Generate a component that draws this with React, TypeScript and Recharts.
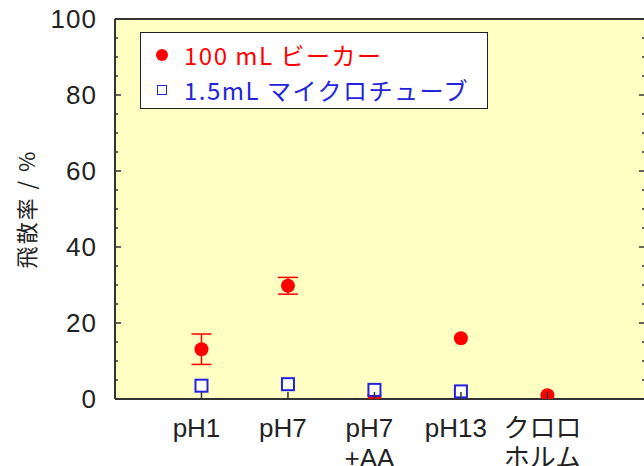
import React from "react";
import { ScatterChart, Scatter, XAxis, YAxis, CartesianGrid, ErrorBar, Legend } from "recharts";

// categories (multi-line tick labels)
const categories = [["pH1"], ["pH7"], ["pH7", "+AA"], ["pH13"], ["クロロ", "ホルム"]];
const categoryPositions = [1, 2, 3, 4, 5];

// 飛散率 (%)
const beakerValues = [13.1, 29.8, 0.9, 16.0, 1.0];
const beakerErrors = [4.0, 2.2, 0, 0, 0];
const tubeValues = [3.5, 3.9, 2.4, 2.0, null];

const yTicks = [0, 5, 10, 15, 20, 25, 30, 35, 40, 45, 50, 55, 60, 65, 70, 75, 80, 85, 90, 95, 100];

const beakerData = beakerValues.map((v, i) => ({ x: categoryPositions[i], y: v, err: beakerErrors[i] }));
const tubeData = tubeValues
  .map((v, i) => ({ x: categoryPositions[i], y: v }))
  .filter((d) => d.y !== null);

const AXIS = "#333333";
const RED = "#FF0000";
const BLUE = "#2323DC";
const NUM_FONT = "'Liberation Sans', Arial, 'Noto Sans CJK JP', sans-serif";
const JP_FONT = "'Noto Sans CJK JP', sans-serif";

const LeftTick = ({ x, y, payload }: any) => {
  const major = payload.value % 20 === 0;
  return (
    <g>
      <line x1={x} y1={y} x2={x + (major ? 6 : 3)} y2={y} stroke={AXIS} strokeWidth={1.5} />
      {major && (
        <text x={x - 18} y={y} textAnchor="end" dominantBaseline="central" fontSize={26} fontFamily={NUM_FONT} fill="#222" letterSpacing={1}>
          {payload.value}
        </text>
      )}
    </g>
  );
};

const RightTick = ({ x, y, payload }: any) => {
  const major = payload.value % 20 === 0;
  return <line x1={x} y1={y} x2={x - (major ? 7 : 4)} y2={y} stroke={AXIS} strokeWidth={1.5} />;
};

const BottomTick = ({ x, y, payload }: any) => {
  const lines = categories[payload.value - 1] || [];
  return (
    <g>
      <line x1={x} y1={y} x2={x} y2={y - 7} stroke={AXIS} strokeWidth={1.5} />
      {lines.map((t, i) => (
        <text key={i} x={x - 5} y={y + 38 + i * 30} textAnchor="middle" fontSize={26} fontFamily={NUM_FONT} fill="#222">
          {t}
        </text>
      ))}
    </g>
  );
};

const TopTick = ({ x, y }: any) => <line x1={x} y1={y} x2={x} y2={y + 6} stroke={AXIS} strokeWidth={1.5} />;

const RedDot = (props: any) => <circle cx={props.cx} cy={props.cy} r={7} fill={RED} />;
const BlueSquare = (props: any) => (
  <rect x={props.cx - 6} y={props.cy - 6} width={12} height={12} fill="#FFFFFF" stroke={BLUE} strokeWidth={2} />
);

const LegendBox = ({ payload }: any) => {
  const items = [...(payload || [])].sort((a: any, b: any) => (a.type === "circle" ? -1 : 0) - (b.type === "circle" ? -1 : 0));
  return (
    <div
      style={{
        width: 348,
        height: 77,
        boxSizing: "border-box",
        border: "1.5px solid #222",
        background: "#FFFFFF",
        paddingTop: 4,
        fontFamily: JP_FONT,
      }}
    >
      {items.map((entry: any, i: number) => (
        <div key={i} style={{ display: "flex", alignItems: "center", height: 35, color: entry.color }}>
          <div style={{ width: 43, display: "flex", justifyContent: "center" }}>
            {entry.type === "circle" ? (
              <div style={{ width: 12, height: 12, borderRadius: 6, background: entry.color, marginLeft: -2 }} />
            ) : (
              <div style={{ width: 10, height: 10, boxSizing: "border-box", border: `1.5px solid ${entry.color}`, marginLeft: -2 }} />
            )}
          </div>
          <span style={{ fontSize: 24, letterSpacing: 1.5, whiteSpace: "nowrap" }}>{entry.value}</span>
        </div>
      ))}
    </div>
  );
};

const YLabel = () => (
  <text
    x={25}
    y={209}
    transform="rotate(-90 25 209)"
    textAnchor="middle"
    dominantBaseline="central"
    fontSize={22}
    fontFamily={JP_FONT}
    fill="#222"
    letterSpacing={2}
  >
    飛散率 / %
  </text>
);

export default function App() {
  return (
    <div style={{ position: "fixed", left: 0, top: 0, width: 644, height: 466, overflow: "hidden", background: "#FFFFFF" }}>
      <ScatterChart width={660} height={466} margin={{ top: 0, right: 0, bottom: 0, left: 0 }}>
        <CartesianGrid fill="#FFFFC4" stroke="none" horizontal={false} vertical={false} />
        <XAxis
          dataKey="x"
          type="number"
          domain={[0, 6.14]}
          ticks={categoryPositions}
          allowDataOverflow
          height={67}
          tickSize={0}
          tickMargin={0}
          tickLine={false}
          axisLine={{ stroke: AXIS, strokeWidth: 2 }}
          tick={<BottomTick />}
          interval={0}
        />
        <XAxis
          xAxisId="top"
          orientation="top"
          type="number"
          domain={[0, 6.14]}
          ticks={categoryPositions}
          allowDataOverflow
          height={19}
          tickSize={0}
          tickMargin={0}
          tickLine={false}
          axisLine={{ stroke: AXIS, strokeWidth: 2 }}
          tick={<TopTick />}
          interval={0}
        />
        <YAxis
          dataKey="y"
          type="number"
          domain={[0, 100]}
          ticks={yTicks}
          allowDataOverflow
          width={115}
          tickSize={0}
          tickMargin={0}
          tickLine={false}
          axisLine={{ stroke: AXIS, strokeWidth: 2 }}
          tick={<LeftTick />}
          interval={0}
          label={{ content: () => <YLabel /> }}
        />
        <YAxis
          yAxisId="right"
          orientation="right"
          type="number"
          domain={[0, 100]}
          ticks={yTicks}
          allowDataOverflow
          width={14}
          tickSize={0}
          tickMargin={0}
          tickLine={false}
          axisLine={{ stroke: AXIS, strokeWidth: 2 }}
          tick={<RightTick />}
          interval={0}
        />
        <Legend
          layout="vertical"
          align="center"
          verticalAlign="middle"
          itemSorter={null}
          wrapperStyle={{ position: "absolute", left: 140, top: 32, width: 348, height: 77 }}
          content={<LegendBox />}
        />
        <Scatter
          name="100 mL ビーカー"
          data={beakerData}
          fill={RED}
          legendType="circle"
          shape={<RedDot />}
          isAnimationActive={false}
        >
          <ErrorBar dataKey="err" direction="y" width={10} stroke={RED} strokeWidth={1.5} />
        </Scatter>
        <Scatter
          name="1.5mL マイクロチューブ"
          data={tubeData}
          fill={BLUE}
          legendType="square"
          shape={<BlueSquare />}
          isAnimationActive={false}
        />
      </ScatterChart>
    </div>
  );
}
